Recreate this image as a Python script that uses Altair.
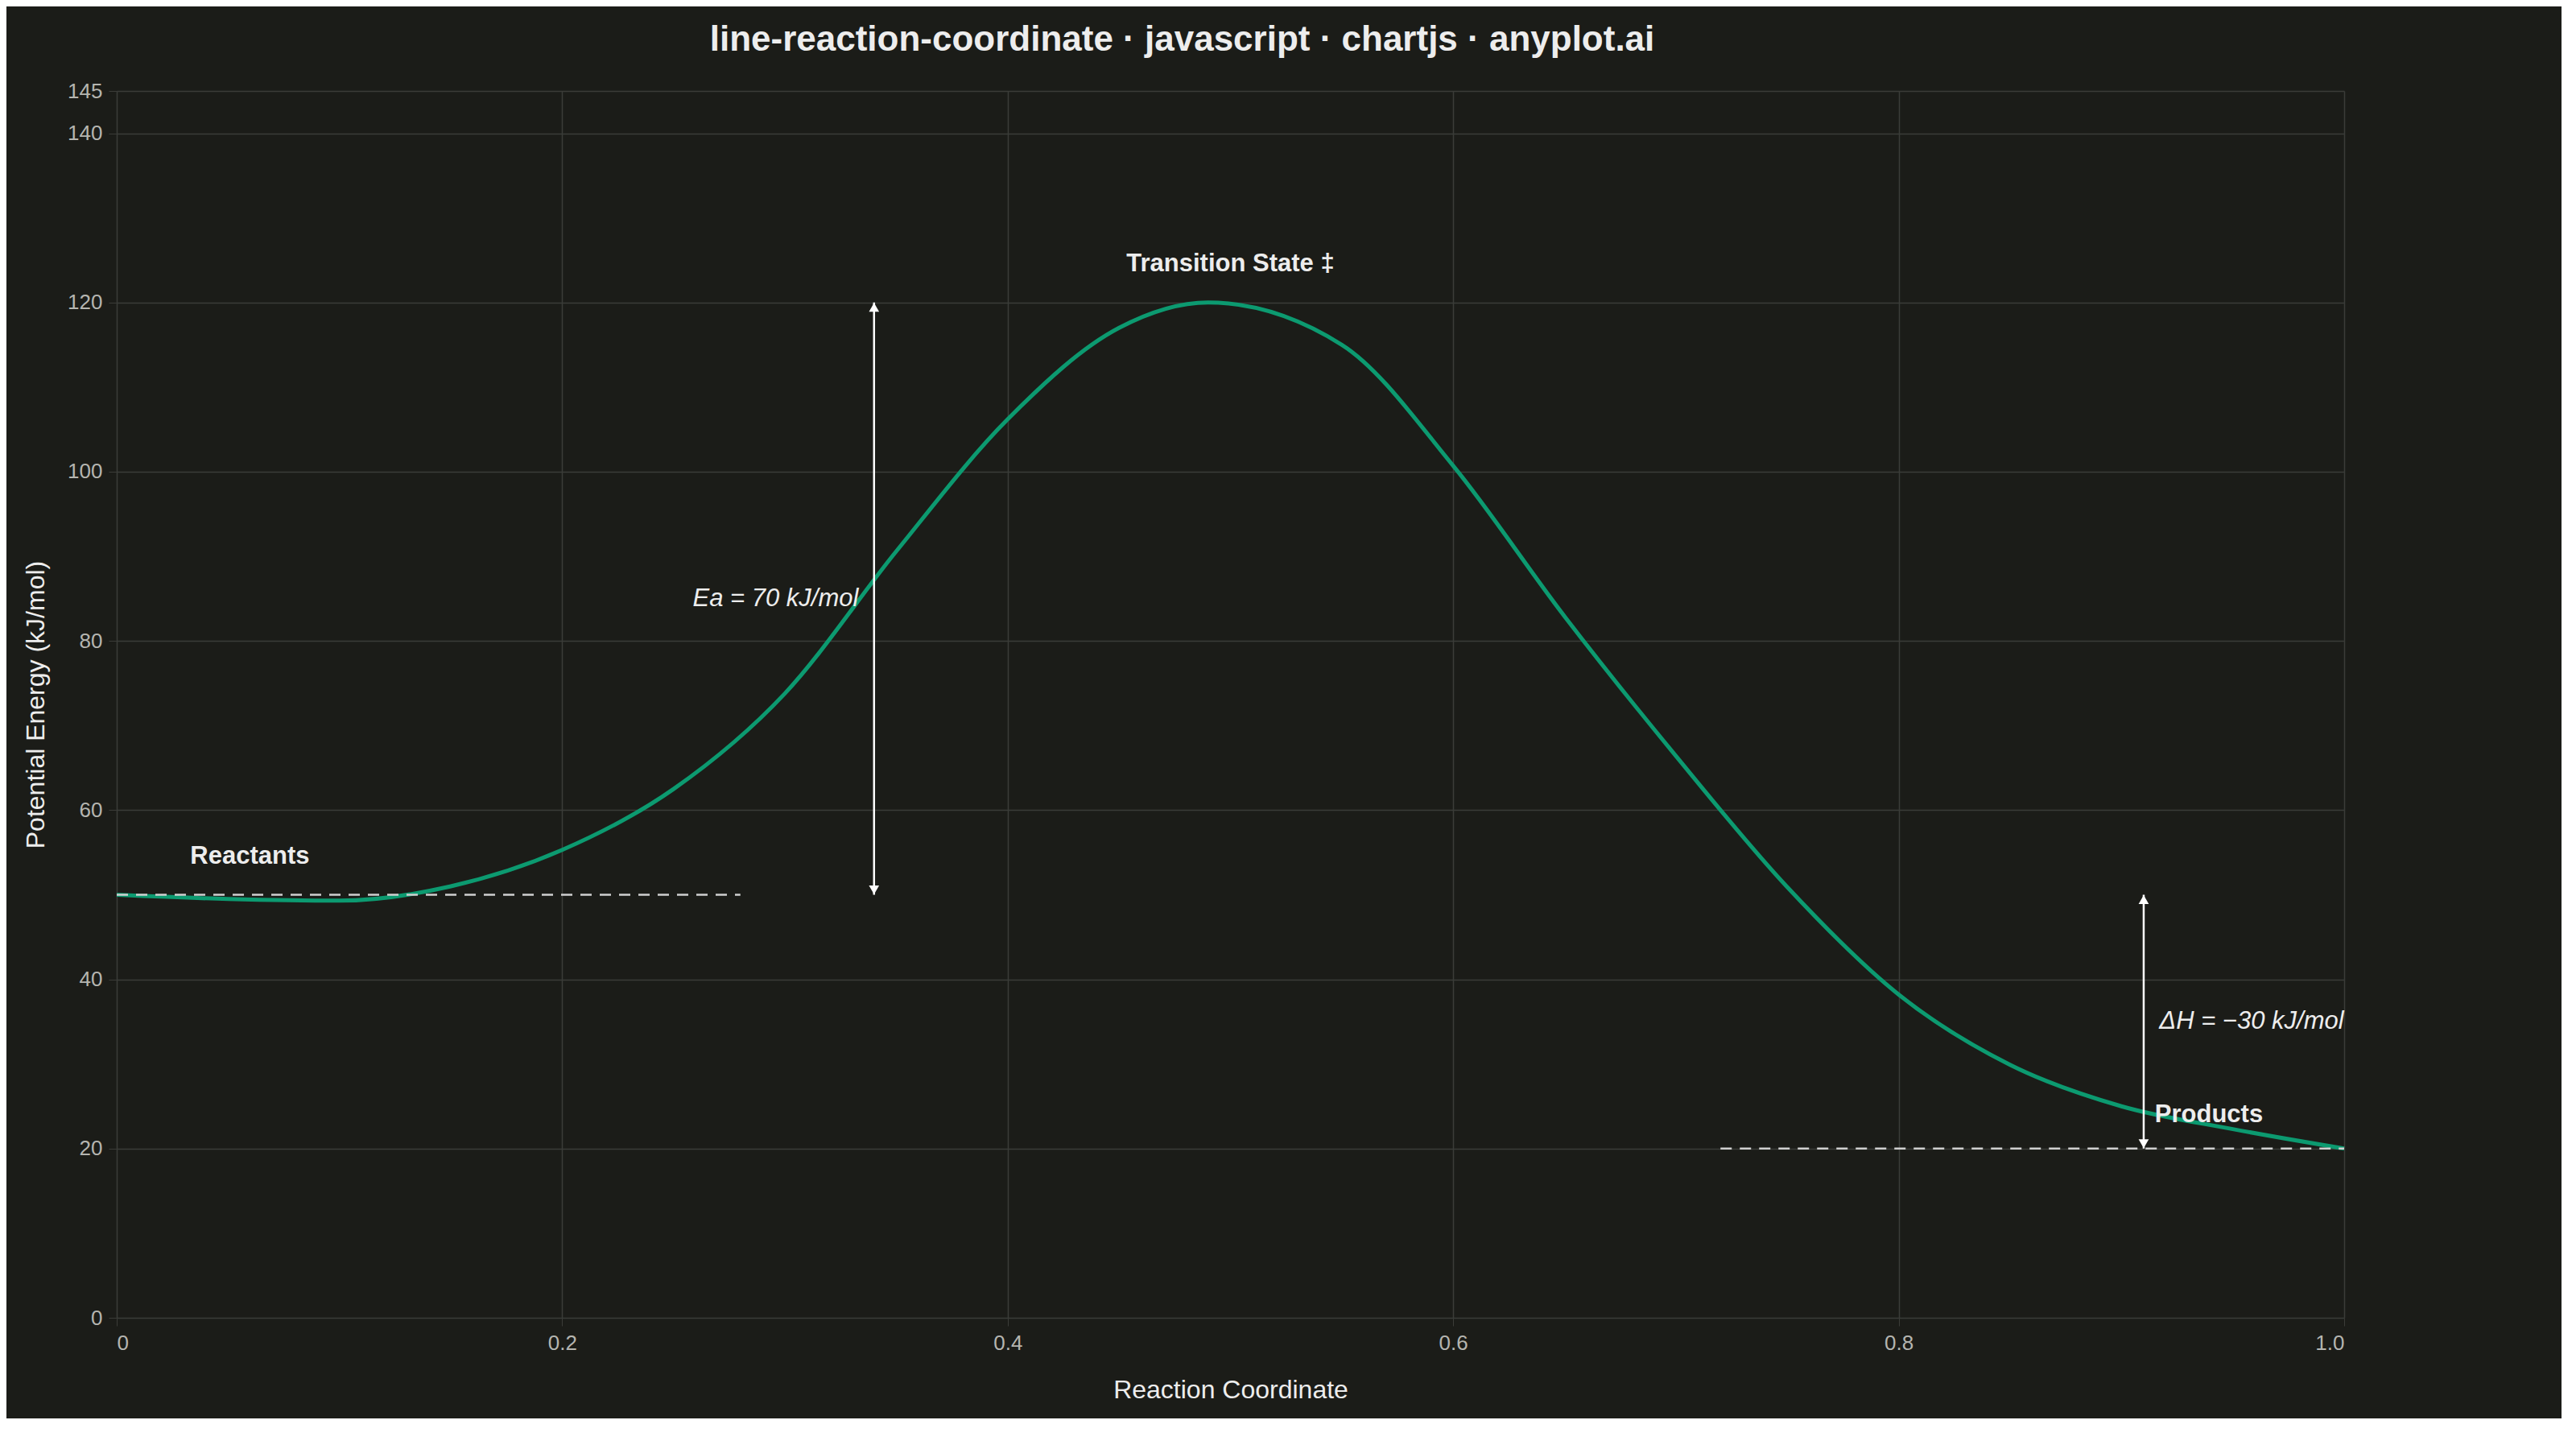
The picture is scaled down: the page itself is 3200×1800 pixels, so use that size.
import pandas as pd
import altair as alt

# energy profile
coord = [0.0, 0.05, 0.1, 0.15, 0.2, 0.25, 0.3, 0.35, 0.4, 0.45, 0.49, 0.55,
         0.6, 0.65, 0.7, 0.75, 0.8, 0.85, 0.9, 0.95, 1.0]
energy = [50.0, 49.5, 49.3, 51.0, 55.3, 62.5, 73.8, 90.6, 106.2, 117.0, 120.0, 115.0,
          100.7, 82.9, 66.4, 50.9, 38.2, 29.9, 25.0, 22.3, 20.0]

ref_x = [0.0, 0.28, 0.72, 1.0]
ref_y = [50, 50, 20, 20]
ref_grp = ["r", "r", "p", "p"]

side_labels = ["Reactants", "Products"]
side_x = [0.033, 0.915]
side_y = [54.5, 24]
ts_label, ts_x, ts_y = "Transition State ‡", 0.5, 124.5

ea_x, ea_lo, ea_hi = 0.34, 50, 120
dh_x, dh_lo, dh_hi = 0.91, 20, 50

BG = "#1b1c18"
GREEN = "#0c9a70"
TXT = "#ededed"
FONT = "Liberation Sans"

xs = alt.Scale(domain=[0, 1], nice=False)
ys = alt.Scale(domain=[0, 145], nice=False)
x_axis = alt.Axis(values=[0, 0.2, 0.4, 0.6, 0.8, 1.0], labelExpr="datum.value == 0 ? '0' : format(datum.value, '.1f')",
                  title="Reaction Coordinate", titlePadding=30)
y_axis = alt.Axis(values=[0, 20, 40, 60, 80, 100, 120, 140, 145], title="Potential Energy (kJ/mol)", titlePadding=22)

curve = alt.Chart(pd.DataFrame({"x": coord, "y": energy})).mark_line(
    color=GREEN, strokeWidth=5, interpolate="monotone"
).encode(x=alt.X("x:Q", scale=xs, axis=x_axis), y=alt.Y("y:Q", scale=ys, axis=y_axis))

refs = alt.Chart(pd.DataFrame({"x": ref_x, "y": ref_y, "g": ref_grp})).mark_line(
    color="#cfcfcf", strokeWidth=2.5, strokeDash=[14, 10]
).encode(x="x:Q", y="y:Q", detail="g:N")

arrows = pd.DataFrame({"x": [ea_x, dh_x], "lo": [ea_lo, dh_lo], "hi": [ea_hi, dh_hi]})
shafts = alt.Chart(arrows).mark_rule(color="white", strokeWidth=2.5).encode(x="x:Q", y="lo:Q", y2="hi:Q")
heads_up = alt.Chart(arrows).mark_point(shape="triangle-up", filled=True, color="white", size=160, opacity=1, yOffset=6).encode(x="x:Q", y="hi:Q")
heads_dn = alt.Chart(arrows).mark_point(shape="triangle-down", filled=True, color="white", size=160, opacity=1, yOffset=-6).encode(x="x:Q", y="lo:Q")

names = alt.Chart(pd.DataFrame({"t": side_labels, "x": side_x, "y": side_y})).mark_text(
    color=TXT, fontSize=31, fontWeight="bold", font=FONT, align="left", baseline="middle"
).encode(x="x:Q", y="y:Q", text="t:N")
ts_text = alt.Chart(pd.DataFrame({"t": [ts_label], "x": [ts_x], "y": [ts_y]})).mark_text(
    color=TXT, fontSize=31, fontWeight="bold", font=FONT, align="center", baseline="middle"
).encode(x="x:Q", y="y:Q", text="t:N")

ea_text = alt.Chart(pd.DataFrame({"t": ["Ea = 70 kJ/mol"], "x": [0.333], "y": [85]})).mark_text(
    color=TXT, fontSize=31, fontStyle="italic", font=FONT, align="right", baseline="middle"
).encode(x="x:Q", y="y:Q", text="t:N")
dh_text = alt.Chart(pd.DataFrame({"t": ["ΔH = −30 kJ/mol"], "x": [0.917], "y": [35]})).mark_text(
    color=TXT, fontSize=31, fontStyle="italic", font=FONT, align="left", baseline="middle"
).encode(x="x:Q", y="y:Q", text="t:N")

chart = alt.layer(curve, refs, shafts, heads_up, heads_dn, names, ts_text, ea_text, dh_text).properties(
    width=2767, height=1524, background=BG,
    padding={"left": 20, "right": 260, "top": 20, "bottom": 20},
    title=alt.TitleParams("line-reaction-coordinate · javascript · chartjs · anyplot.ai",
                          fontSize=44, fontWeight="bold", color=TXT, font=FONT, offset=28, anchor="middle", dx=-60)
).configure_view(stroke=None).configure_axis(
    gridColor="#3b3c38", gridWidth=1.5, domain=False, tickColor="#3b3c38", tickSize=10,
    labelColor="#b5b5b0", labelFontSize=26, labelFont=FONT, labelPadding=8,
    titleColor=TXT, titleFontSize=32, titleFont=FONT, titleFontWeight="normal"
)

chart.save("out.html", embed_options={"renderer": "svg", "actions": False})
